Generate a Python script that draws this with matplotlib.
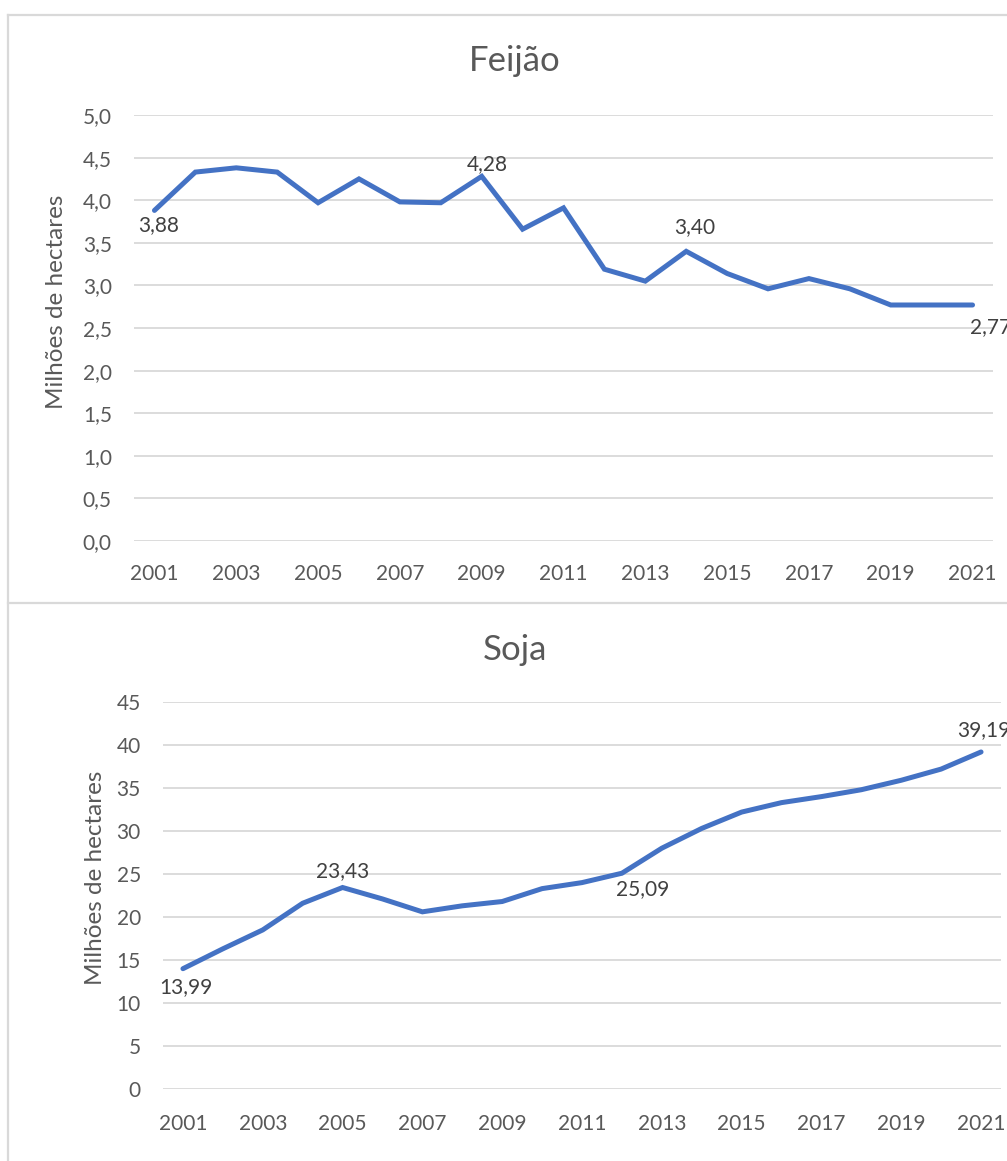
import matplotlib.pyplot as plt
from matplotlib.lines import Line2D
from matplotlib.ticker import FuncFormatter

W, H = 1007, 1161

anos = list(range(2001, 2022))

feijao = [3.88, 4.33, 4.38, 4.33, 3.97, 4.25, 3.98, 3.97, 4.28, 3.66,
          3.91, 3.19, 3.05, 3.40, 3.14, 2.96, 3.08, 2.96, 2.77, 2.77, 2.77]

soja = [13.99, 16.3, 18.5, 21.6, 23.43, 22.1, 20.6, 21.3, 21.8, 23.3,
        24.0, 25.09, 28.0, 30.3, 32.2, 33.3, 34.0, 34.8, 35.9, 37.2, 39.19]

# anos com rótulo de valor e deslocamento (px) do rótulo
rot_feijao = {2001: (4, -15), 2009: (6, 12), 2014: (9, 24), 2021: (18, -22)}
rot_soja = {2001: (3, -18), 2005: (0, 16), 2012: (21, -16), 2021: (3, 22)}

AZUL = "#4472C4"
CINZA_TXT = "#595959"
CINZA_ROT = "#404040"
GRADE = "#D9D9D9"

plt.rcParams["font.family"] = ["Lato", "DejaVu Sans"]

fig = plt.figure(figsize=(W / 100, H / 100), dpi=100)


def px_axes(x0, y0, x1, y1):
    return fig.add_axes([x0 / W, 1 - y1 / H, (x1 - x0) / W, (y1 - y0) / H])


def fmt_virgula(casas):
    return FuncFormatter(lambda v, p: f"{v:.{casas}f}".replace(".", ","))


def grafico(ax, valores, ymax, passo, casas, rotulos, titulo, tx, ty, lx, ly, xpad):
    ax.plot(anos, valores, color=AZUL, lw=3.6, solid_capstyle="round",
            solid_joinstyle="miter", zorder=3)
    ax.set_xlim(2000.5, 2021.5)
    ax.set_ylim(0, ymax)
    yt = [i * passo for i in range(int(round(ymax / passo)) + 1)]
    ax.set_yticks(yt)
    ax.yaxis.set_major_formatter(fmt_virgula(casas))
    ax.set_xticks(anos[::2])
    ax.grid(axis="y", color=GRADE, lw=1.3)
    ax.set_axisbelow(True)
    for s in ax.spines.values():
        s.set_visible(False)
    ax.tick_params(axis="both", length=0, labelsize=15, labelcolor=CINZA_TXT)
    ax.tick_params(axis="y", pad=16)
    ax.tick_params(axis="x", pad=xpad)
    for ano, (dx, dy) in rotulos.items():
        v = valores[anos.index(ano)]
        ax.annotate(f"{v:.2f}".replace(".", ","), (ano, v),
                    xytext=(dx * 0.72, dy * 0.72), textcoords="offset points",
                    ha="center", va="center", fontsize=15, color=CINZA_ROT,
                    annotation_clip=False, zorder=4)
    fig.text(tx / W, 1 - ty / H, titulo, ha="center", va="center",
             fontsize=25, color=CINZA_TXT)
    fig.text(lx / W, 1 - ly / H, "Milhões de hectares", ha="center",
             va="center", rotation=90, fontsize=17.5, color=CINZA_TXT)


ax1 = px_axes(134, 115, 993, 541)
grafico(ax1, feijao, 5.0, 0.5, 1, rot_feijao, "Feijão", 515, 61, 57, 302, 16.5)

ax2 = px_axes(163, 702, 1001, 1089)
grafico(ax2, soja, 45, 5, 0, rot_soja, "Soja", 515, 650, 95, 878, 18)

# molduras das duas áreas de gráfico
for xs, ys in [((8, W), (15, 15)), ((8, 8), (15, H)), ((8, W), (603, 603))]:
    fig.add_artist(Line2D([x / W for x in xs], [1 - y / H for y in ys],
                          color=GRADE, lw=1.6, transform=fig.transFigure))

fig.savefig("out.png", dpi=100, facecolor="white")
